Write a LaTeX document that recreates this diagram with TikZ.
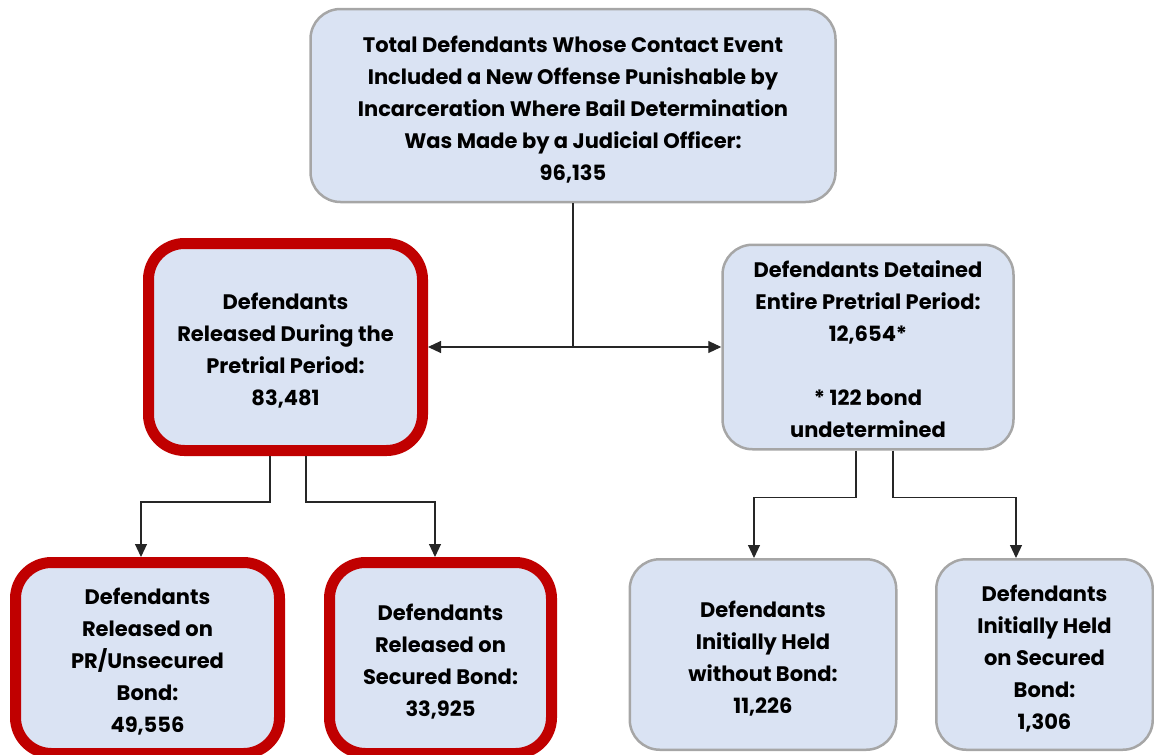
\documentclass[tikz,border=0pt]{standalone}
\usepackage{fontspec}
\setmainfont{Poppins}
\usetikzlibrary{arrows.meta}
\definecolor{boxfill}{HTML}{DAE3F3}
\definecolor{boxred}{HTML}{C00000}
\definecolor{boxgray}{HTML}{A6A6A6}
\tikzset{
  txt/.style={align=center, font=\fontsize{21}{32}\selectfont\bfseries, text=black, inner sep=0pt},
  graybox/.style={draw=boxgray, line width=2.5pt, fill=boxfill, rounded corners=30pt, inner sep=0pt},
  redbox/.style={draw=boxred, line width=11pt, fill=boxfill, rounded corners=36pt, inner sep=0pt},
  conn/.style={draw=black!85, line width=1.1pt},
  arr/.style={conn, -{Triangle[length=13pt,width=12pt]}},
  darr/.style={conn, {Triangle[length=13pt,width=12pt]}-{Triangle[length=13pt,width=12pt]}},
}
\begin{document}
\begin{tikzpicture}[x=1pt,y=1pt]
\useasboundingbox (0,0) rectangle (1154,-755);
% boxes
\node[graybox, minimum width=525pt, minimum height=193pt] (top) at (573,-105.5) {};
\node[redbox, minimum width=274pt, minimum height=207pt] (rel) at (285.5,-347) {};
\node[graybox, minimum width=291pt, minimum height=204.5pt] (det) at (868,-347) {};
\node[redbox, minimum width=264pt, minimum height=191pt] (pr) at (147.5,-658) {};
\node[redbox, minimum width=222pt, minimum height=191pt] (sec) at (440.5,-658) {};
\node[graybox, minimum width=266.5pt, minimum height=190.5pt] (nob) at (763,-654.5) {};
\node[graybox, minimum width=216.5pt, minimum height=190.5pt] (hsec) at (1044.5,-654.5) {};
% texts
\node[txt] (topt) at ([yshift=-4pt]top.center)
  {Total Defendants Whose Contact Event\\Included a New Offense Punishable by\\Incarceration Where Bail Determination\\Was Made by a Judicial Officer:\\96,135};
\node[txt] (relt) at ([yshift=-4pt]rel.center)
  {Defendants\\Released During the\\Pretrial Period:\\83,481};
\node[txt] (dett) at ([yshift=-2pt]det.center)
  {Defendants Detained\\Entire Pretrial Period:\\12,654*\\[32pt]* 122 bond\\undetermined};
\node[txt] (prt) at ([yshift=-4pt]pr.center)
  {Defendants\\Released on\\PR/Unsecured\\Bond:\\49,556};
\node[txt] (sect) at ([yshift=-4pt]sec.center)
  {Defendants\\Released on\\Secured Bond:\\33,925};
\node[txt] (nobt) at ([yshift=-4pt]nob.center)
  {Defendants\\Initially Held\\without Bond:\\11,226};
\node[txt] (hsect) at ([yshift=-4pt]hsec.center)
  {Defendants\\Initially Held\\on Secured\\Bond:\\1,306};
% connectors
\coordinate (split) at (top.south |- rel.east);
\draw[conn] (top.south) -- (split);
\draw[darr] (rel.east) -- (det.west);
\draw[arr] ([xshift=-15.5pt]rel.south) |- ([yshift=-46pt,xshift=-144.5pt]rel.south) -- ([xshift=-6.5pt]pr.north);
\draw[arr] ([xshift=20.5pt]rel.south) |- ([yshift=-46pt,xshift=149.5pt]rel.south) -- ([xshift=-5.5pt]sec.north);
\draw[arr] ([xshift=-12pt]det.south) |- ([yshift=-47pt,xshift=-114pt]det.south) -- ([xshift=-9pt]nob.north);
\draw[arr] ([xshift=25pt]det.south) |- ([yshift=-47pt,xshift=148pt]det.south) -- ([xshift=-28.5pt]hsec.north);
\end{tikzpicture}
\end{document}
